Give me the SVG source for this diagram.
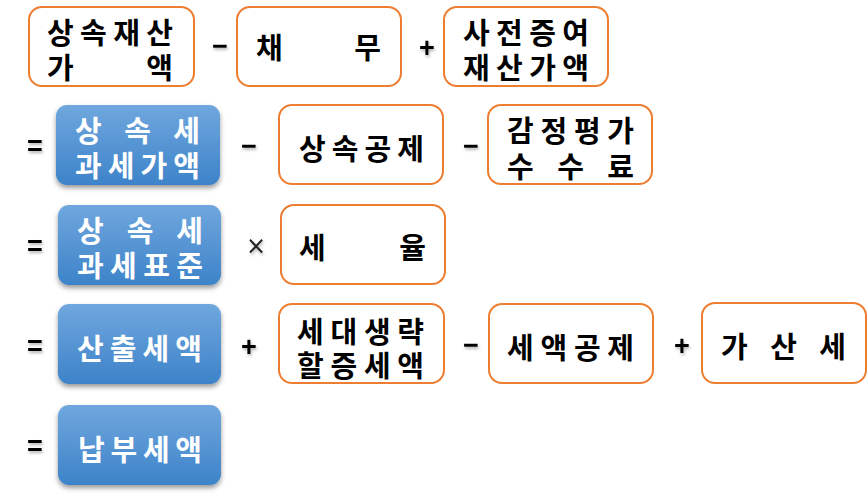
<svg xmlns="http://www.w3.org/2000/svg" width="867" height="498" viewBox="0 0 867 498">
<style>
.ob{fill:#fff;stroke:#ed7d31;stroke-width:2}
.bb{fill:url(#bg);filter:url(#sh)}
.t{font-family:"Noto Sans CJK KR","Noto Sans",sans-serif;font-weight:bold;font-size:29px;dominant-baseline:central}
.k{fill:#000}
.w{fill:#fff}
.op{font-family:"Liberation Sans","DejaVu Sans",sans-serif;font-weight:bold;font-size:27px;fill:#000;text-anchor:middle;dominant-baseline:central;filter:url(#osh)}
.x{font-family:"DejaVu Sans",sans-serif;font-weight:normal;font-size:24px;fill:#222;text-anchor:middle;dominant-baseline:central;filter:url(#osh)}
</style>
<defs>
<linearGradient id="bg" x1="0" y1="0" x2="0" y2="1">
<stop offset="0" stop-color="#70a7de"/>
<stop offset="1" stop-color="#3d83c9"/>
</linearGradient>
<filter id="sh" x="-10%" y="-10%" width="120%" height="130%">
<feDropShadow dx="0" dy="3" stdDeviation="2.5" flood-color="#000" flood-opacity="0.4"/>
</filter>
<filter id="osh" x="-50%" y="-50%" width="200%" height="200%">
<feDropShadow dx="1" dy="2" stdDeviation="1.5" flood-color="#000" flood-opacity="0.3"/>
</filter>
</defs>

<g id="connectors">
<text class="op" x="220" y="46">−</text>
<text class="op" x="427" y="48">+</text>
<text class="op" x="35" y="146">=</text>
<text class="op" x="249" y="146">−</text>
<text class="op" x="471" y="146">−</text>
<text class="op" x="35" y="246">=</text>
<text class="x" x="256" y="246">×</text>
<text class="op" x="35" y="346">=</text>
<text class="op" x="249" y="347">+</text>
<text class="op" x="471" y="345">−</text>
<text class="op" x="682" y="346">+</text>
<text class="op" x="35" y="446">=</text>
</g>

<g id="n1">
<rect class="ob" x="29" y="7" width="165" height="79" rx="13"/>
<text class="t k"><tspan x="47" y="31" textLength="126">상속재산</tspan><tspan x="47" y="66" textLength="126">가 액</tspan></text>
</g>
<g id="n2">
<rect class="ob" x="237" y="7" width="164" height="79" rx="13"/>
<text class="t k" x="256" y="46" textLength="125">채 무</text>
</g>
<g id="n3">
<rect class="ob" x="444" y="7" width="164" height="79" rx="13"/>
<text class="t k"><tspan x="463" y="31" textLength="126">사전증여</tspan><tspan x="463" y="66" textLength="126">재산가액</tspan></text>
</g>

<g id="n4">
<rect class="bb" x="56" y="105" width="164" height="80" rx="11"/>
<text class="t w"><tspan x="75" y="129" textLength="125">상 속 세</tspan><tspan x="75" y="164" textLength="125">과세가액</tspan></text>
</g>
<g id="n5">
<rect class="ob" x="279" y="105" width="164" height="79" rx="13"/>
<text class="t k" x="299" y="147" textLength="125">상속공제</text>
</g>
<g id="n6">
<rect class="ob" x="488" y="105" width="164" height="79" rx="13"/>
<text class="t k"><tspan x="507" y="129" textLength="127">감정평가</tspan><tspan x="507" y="165" textLength="127">수 수 료</tspan></text>
</g>

<g id="n7">
<rect class="bb" x="58" y="205" width="163" height="80" rx="11"/>
<text class="t w"><tspan x="77" y="229" textLength="126">상 속 세</tspan><tspan x="77" y="264" textLength="126">과세표준</tspan></text>
</g>
<g id="n8">
<rect class="ob" x="281" y="205" width="164" height="79" rx="13"/>
<text class="t k" x="299" y="246" textLength="127">세 율</text>
</g>

<g id="n9">
<rect class="bb" x="58" y="304" width="163" height="80" rx="11"/>
<text class="t w" x="77" y="347" textLength="125">산출세액</text>
</g>
<g id="n10">
<rect class="ob" x="279" y="304" width="165" height="79" rx="13"/>
<text class="t k"><tspan x="297" y="330" textLength="127">세대생략</tspan><tspan x="297" y="364" textLength="127">할증세액</tspan></text>
</g>
<g id="n11">
<rect class="ob" x="489" y="304" width="164" height="79" rx="13"/>
<text class="t k" x="507" y="346" textLength="127">세액공제</text>
</g>
<g id="n12">
<rect class="ob" x="702" y="303" width="164" height="80" rx="13"/>
<text class="t k" x="721" y="345" textLength="125">가 산 세</text>
</g>

<g id="n13">
<rect class="bb" x="58" y="405" width="163" height="80" rx="11"/>
<text class="t w" x="78" y="448" textLength="124">납부세액</text>
</g>
</svg>
